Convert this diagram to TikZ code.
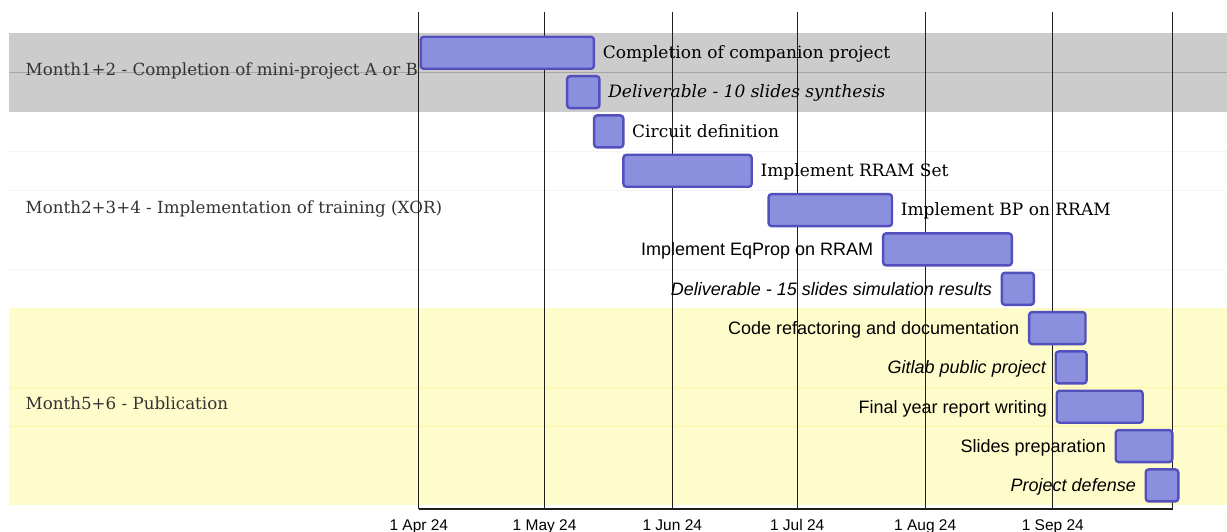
\documentclass[tikz,border=0pt]{standalone}
\usepackage{fontspec}
\setmainfont{DejaVu Serif}
\setsansfont{Liberation Sans}
\usepackage{tikz}
\usetikzlibrary{positioning}
\definecolor{gtbar}{RGB}{138,144,221}
\definecolor{gtborder}{RGB}{83,79,188}
\definecolor{gtgray}{RGB}{204,204,204}
\definecolor{gtyellow}{RGB}{255,252,204}
\definecolor{gtgrid}{RGB}{30,30,30}
\definecolor{gttext}{RGB}{51,51,51}
\definecolor{gtrowgray}{RGB}{165,165,165}
\definecolor{gtrowwhite}{RGB}{244,244,244}
\definecolor{gtrowyellow}{RGB}{255,246,165}

\begin{document}
\begin{tikzpicture}[x=1pt, y=-1pt,
  bar/.style={draw=gtborder, fill=gtbar, line width=2.4pt, rounded corners=3pt,
              minimum height=32pt, inner sep=0pt, anchor=west},
  seriflbl/.style={font=\fontsize{17}{20}\selectfont, inner sep=0pt,
              text height=13.5pt, text depth=2pt},
  sanslbl/.style={font=\sffamily\fontsize{18}{21}\selectfont, inner sep=0pt,
              text height=14.5pt, text depth=1.7pt},
  section/.style={font=\fontsize{16.7}{20}\selectfont, text=gttext, inner sep=0pt,
              anchor=west, text height=13.5pt, text depth=2pt},
  tick/.style={font=\sffamily\fontsize{15.5}{18}\selectfont, inner sep=0pt, anchor=base},
  grid/.style={gtgrid, line width=1.1pt}]
  \useasboundingbox (0,0) rectangle (1227,532);
  \fill[white] (0,0) rectangle (1227,532);

  % Section bands
  \fill[gtgray] (9,32.7) rectangle (1227,111.7);
  \fill[gtyellow] (9,307.7) rectangle (1227,505);
  \draw[gtrowgray, line width=0.8pt] (9,72.3) -- (1227,72.3);
  \draw[gtrowwhite, line width=0.7pt] (9,151.5) -- (1227,151.5);
  \draw[gtrowwhite, line width=0.7pt] (9,190.5) -- (1227,190.5);
  \draw[gtrowwhite, line width=0.7pt] (9,269) -- (1227,269);
  \draw[gtrowyellow, line width=0.8pt] (9,387.5) -- (1227,387.5);
  \draw[gtrowyellow, line width=0.8pt] (9,426.8) -- (1227,426.8);

  % Section labels
  \node[section] (s1) at (25.5,70) {Month1+2 - Completion of mini-project A or B};
  \node[section] (s2) at (25.5,207.8) {Month2+3+4 - Implementation of training (XOR)};
  \node[section] (s3) at (25.5,403.7) {Month5+6 - Publication};

  % Month grid and axis
  \draw[grid] (418.5,12) -- (418.5,509);
  \draw[grid] (544.6,12) -- (544.6,509);
  \draw[grid] (672.3,12) -- (672.3,509);
  \draw[grid] (797.2,12) -- (797.2,509);
  \draw[grid] (925.2,12) -- (925.2,509);
  \draw[grid] (1052.8,12) -- (1052.8,509);
  \draw[grid] (1172.5,12) -- (1172.5,509);
  \draw[grid] (418.5,509) -- (1172.5,509);

  % Axis dates
  \node[tick] (d1) at (418.8,530) {1 Apr 24};
  \node[tick] (d2) at (544.6,530) {1 May 24};
  \node[tick] (d3) at (672.3,530) {1 Jun 24};
  \node[tick] (d4) at (797.2,530) {1 Jul 24};
  \node[tick] (d5) at (925.2,530) {1 Aug 24};
  \node[tick] (d6) at (1052.8,530) {1 Sep 24};

  % Task bars
  \node[bar, minimum width=173.2] (t1) at (419.5,52.8) {};
  \node[bar, minimum width=32.3] (t2) at (565.9,92.1) {};
  \node[bar, minimum width=29.2] (t3) at (592.9,131.4) {};
  \node[bar, minimum width=128.3] (t4) at (622.2,170.8) {};
  \node[bar, minimum width=123.4] (t5) at (767.4,210.1) {};
  \node[bar, minimum width=128.7] (t6) at (881.9,249.4) {};
  \node[bar, minimum width=32.1] (t7) at (1000.6,288.8) {};
  \node[bar, minimum width=56.4] (t8) at (1027.9,328.1) {};
  \node[bar, minimum width=30.9] (t9) at (1054.5,367.4) {};
  \node[bar, minimum width=86] (t10) at (1055.5,406.7) {};
  \node[bar, minimum width=56.6] (t11) at (1114.5,446.1) {};
  \node[bar, minimum width=32.6] (t12) at (1144.5,485.4) {};

  % Task labels
  \node[seriflbl, right=7.5pt of t1] (l1) {Completion of companion project};
  \node[seriflbl, right=7.5pt of t2] (l2) {\itshape Deliverable - 10 slides synthesis};
  \node[seriflbl, right=7.5pt of t3] (l3) {Circuit definition};
  \node[seriflbl, right=7.5pt of t4] (l4) {Implement RRAM Set};
  \node[seriflbl, right=7.5pt of t5] (l5) {Implement BP on RRAM};
  \node[sanslbl, left=8.5pt of t6] (l6) {Implement EqProp on RRAM};
  \node[sanslbl, left=8.5pt of t7] (l7) {\itshape Deliverable - 15 slides simulation results};
  \node[sanslbl, left=8.5pt of t8] (l8) {Code refactoring and documentation};
  \node[sanslbl, left=8.5pt of t9] (l9) {\itshape Gitlab public project};
  \node[sanslbl, left=8.5pt of t10] (l10) {Final year report writing};
  \node[sanslbl, left=8.5pt of t11] (l11) {Slides preparation};
  \node[sanslbl, left=8.5pt of t12] (l12) {\itshape Project defense};
\end{tikzpicture}
\end{document}
